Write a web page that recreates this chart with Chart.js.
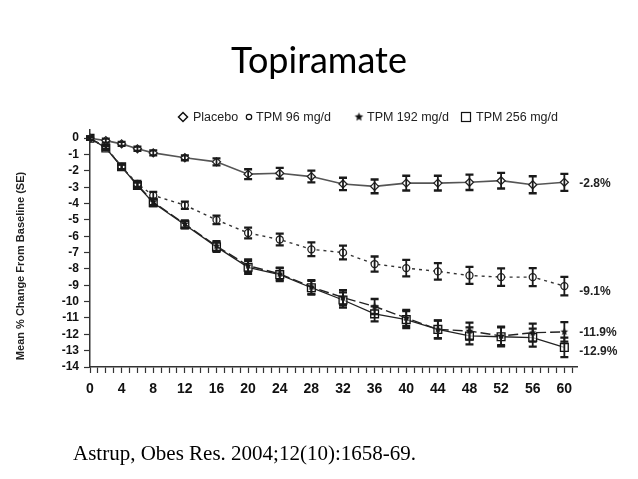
<!DOCTYPE html>
<html>
<head>
<meta charset="utf-8">
<script src="https://cdn.jsdelivr.net/npm/chart.js@4/dist/chart.umd.min.js"></script>
<style>
  html,body{margin:0;padding:0;background:#fff;}
  #c{display:block;}
</style>
</head>
<body>
<canvas id="c" width="638" height="479"></canvas>
<script>
// --- DATI ---
const weeks   = [0, 2, 4, 6, 8, 12, 16, 20, 24, 28, 32, 36, 40, 44, 48, 52, 56, 60];
const seriesNames = ["Placebo", "TPM 96 mg/d", "TPM 192 mg/d", "TPM 256 mg/d"];
const placebo = [0, -0.15, -0.35, -0.65, -0.9, -1.2, -1.45, -2.2, -2.15, -2.35, -2.8, -2.95, -2.75, -2.75, -2.7, -2.6, -2.85, -2.7];
const tpm96   = [0, -0.55, -1.75, -2.8, -3.5, -4.1, -5.0, -5.8, -6.2, -6.8, -7.0, -7.7, -7.95, -8.15, -8.4, -8.5, -8.5, -9.05];
const tpm192  = [0, -0.6, -1.75, -2.85, -3.9, -5.25, -6.6, -7.8, -8.3, -9.1, -9.75, -10.3, -11.0, -11.7, -11.8, -12.1, -11.9, -11.85];
const tpm256  = [0, -0.6, -1.75, -2.9, -3.95, -5.3, -6.65, -7.9, -8.35, -9.15, -9.9, -10.75, -11.1, -11.7, -12.1, -12.15, -12.2, -12.8];
// errore standard
const sePlacebo = [0.1, 0.12, 0.12, 0.13, 0.15, 0.15, 0.22, 0.3, 0.33, 0.36, 0.38, 0.42, 0.45, 0.45, 0.47, 0.48, 0.52, 0.52];
const se96      = [0.1, 0.12, 0.15, 0.18, 0.22, 0.22, 0.26, 0.33, 0.36, 0.42, 0.42, 0.46, 0.5, 0.5, 0.52, 0.54, 0.55, 0.57];
const se192     = [0.1, 0.12, 0.15, 0.18, 0.2, 0.22, 0.3, 0.38, 0.38, 0.42, 0.45, 0.46, 0.5, 0.54, 0.52, 0.57, 0.55, 0.6];
const se256     = [0.1, 0.12, 0.15, 0.18, 0.2, 0.22, 0.3, 0.4, 0.4, 0.42, 0.46, 0.46, 0.52, 0.55, 0.52, 0.58, 0.55, 0.6];
// etichette finali
const endLabels = ["-2.8%", "-9.1%", "-11.9%", "-12.9%"];
const endValues = [-2.8, -9.1, -11.9, -12.9];
// tick
const xTickLabels = [0, 4, 8, 12, 16, 20, 24, 28, 32, 36, 40, 44, 48, 52, 56, 60];
const yTicks = [0, -1, -2, -3, -4, -5, -6, -7, -8, -9, -10, -11, -12, -13, -14];

const chartTitle = "Topiramate";
const yTitle = "Mean % Change From Baseline (SE)";
const citation = "Astrup, Obes Res. 2004;12(10):1658-69.";

// --- STELLA PIENA (pointStyle) ---
function makeStar(r){
  const cv = document.createElement("canvas");
  const s = Math.ceil(r*2+2);
  cv.width = s; cv.height = s;
  const g = cv.getContext("2d");
  g.fillStyle = "#111";
  g.beginPath();
  for(let i=0;i<10;i++){
    const rad = i%2===0 ? r : r*0.45;
    const a = -Math.PI/2 + i*Math.PI/5;
    const px = s/2 + rad*Math.cos(a), py = s/2 + rad*Math.sin(a);
    if(i===0) g.moveTo(px,py); else g.lineTo(px,py);
  }
  g.closePath();
  g.fill();
  return cv;
}
const starPoint = makeStar(4);
const starLegend = makeStar(4.5);

const toXY = (vals) => vals.map((v,i)=>({x:weeks[i], y:v}));

const datasets = [
  {label:seriesNames[0], data:toXY(placebo), se:sePlacebo, borderColor:"#555", borderWidth:1.6,
   pointStyle:"rectRot", pointRadius:4, pointBorderWidth:1.3, pointBorderColor:"#222", pointBackgroundColor:"#fff"},
  {label:seriesNames[1], data:toXY(tpm96), se:se96, borderColor:"#333", borderWidth:1.4, borderDash:[3,4],
   pointStyle:"circle", pointRadius:3.5, pointBorderWidth:1.3, pointBorderColor:"#222", pointBackgroundColor:"#fff"},
  {label:seriesNames[2], data:toXY(tpm192), se:se192, borderColor:"#222", borderWidth:1.4, borderDash:[10,4],
   pointStyle:starPoint, pointRadius:4},
  {label:seriesNames[3], data:toXY(tpm256), se:se256, borderColor:"#222", borderWidth:1.3,
   pointStyle:"rect", pointRadius:5.5, pointBorderWidth:1.3, pointBorderColor:"#111", pointBackgroundColor:"rgba(255,255,255,0.6)"}
];

// --- PLUGIN: barre di errore, legenda, testi ---
const extras = {
  id:"extras",
  afterDatasetsDraw(chart){
    const ctx = chart.ctx, xs = chart.scales.x, ys = chart.scales.y;
    ctx.save();
    ctx.strokeStyle = "#1a1a1a";
    chart.data.datasets.forEach(ds=>{
      ds.data.forEach((p,i)=>{
        const x = xs.getPixelForValue(p.x);
        const top = ys.getPixelForValue(p.y + ds.se[i]);
        const bot = ys.getPixelForValue(p.y - ds.se[i]);
        ctx.lineWidth = 1.8;
        ctx.beginPath();
        ctx.moveTo(x, top); ctx.lineTo(x, bot);
        ctx.stroke();
        ctx.lineWidth = 2.3;
        ctx.beginPath();
        ctx.moveTo(x-4, top); ctx.lineTo(x+4, top);
        ctx.moveTo(x-4, bot); ctx.lineTo(x+4, bot);
        ctx.stroke();
      });
    });
    ctx.restore();
  },
  afterDraw(chart){
    const ctx = chart.ctx, ys = chart.scales.y, xs = chart.scales.x;
    ctx.save();
    // titolo
    ctx.fillStyle = "#000";
    ctx.font = "36px Lato, 'Open Sans', sans-serif";
    ctx.textAlign = "center";
    ctx.textBaseline = "alphabetic";
    ctx.fillText(chartTitle, 319, 73);

    // legenda
    const ly = 117;
    const symX = [183, 249, 359, 466];
    const txtX = [193, 256, 367, 476];
    ctx.strokeStyle = "#111"; ctx.lineWidth = 1.5;
    // diamante
    ctx.beginPath();
    ctx.moveTo(symX[0], ly-4.5); ctx.lineTo(symX[0]+4.5, ly); ctx.lineTo(symX[0], ly+4.5); ctx.lineTo(symX[0]-4.5, ly); ctx.closePath();
    ctx.stroke();
    // cerchio
    ctx.lineWidth = 1.2;
    ctx.beginPath(); ctx.arc(symX[1], ly, 2.7, 0, Math.PI*2); ctx.stroke();
    // stella
    ctx.drawImage(starLegend, symX[2]-starLegend.width/2, ly-starLegend.height/2);
    // quadrato
    ctx.lineWidth = 1.2;
    ctx.strokeRect(symX[3]-4.5, ly-4.5, 9, 9);
    ctx.fillStyle = "#222";
    ctx.textAlign = "left";
    ctx.font = "12.5px 'Liberation Sans', Arial, sans-serif";
    ctx.textBaseline = "middle";
    chart.data.datasets.forEach((ds,i)=> ctx.fillText(ds.label, txtX[i], ly+0.5));

    // titolo asse y
    ctx.save();
    ctx.translate(21, 266);
    ctx.rotate(-Math.PI/2);
    ctx.textAlign = "center";
    ctx.font = "bold 11px 'Liberation Sans', Arial, sans-serif";
    ctx.fillStyle = "#222";
    ctx.fillText(yTitle, 0, 0);
    ctx.restore();

    // etichette finali
    const offs = [0, 5, 0, 3];
    ctx.font = "bold 12px 'Liberation Sans', Arial, sans-serif";
    ctx.fillStyle = "#222";
    ctx.textAlign = "left";
    endLabels.forEach((t,i)=>{
      ctx.fillText(t, xs.getPixelForValue(60) + 15, ys.getPixelForValue(endValues[i]) + offs[i]);
    });

    // citazione
    ctx.font = "21px 'Liberation Serif', 'Times New Roman', serif";
    ctx.fillStyle = "#000";
    ctx.textBaseline = "alphabetic";
    ctx.fillText(citation, 73, 460);
    ctx.restore();
  }
};

const xTicksAll = [];
for(let w=0; w<=61; w++) xTicksAll.push(w);

new Chart(document.getElementById("c"), {
  type:"line",
  data:{datasets},
  options:{
    responsive:false,
    animation:false,
    events:[],
    layout:{padding:{left:0, right:61, top:130, bottom:0}},
    plugins:{
      legend:{display:false},
      tooltip:{enabled:false},
      title:{display:false}
    },
    scales:{
      x:{
        type:"linear", min:0, max:61.6,
        afterBuildTicks: s=>{ s.ticks = xTicksAll.map(v=>({value:v})); },
        afterFit: s=>{ s.height = 112; },
        grid:{display:true, drawOnChartArea:false, tickLength:6, color:"#333", tickWidth:1.2},
        border:{display:true, color:"#333", width:1.5},
        ticks:{autoSkip:false, maxRotation:0, padding:8, color:"#111",
          font:{family:"'Liberation Sans', Arial", size:14, weight:"bold"},
          callback: v => xTickLabels.includes(v) ? String(v) : ""}
      },
      y:{
        type:"linear", min:-14, max:0.5,
        afterBuildTicks: s=>{ s.ticks = yTicks.map(v=>({value:v})); },
        afterFit: s=>{ s.width = 90; },
        grid:{display:true, drawOnChartArea:false, tickLength:6, color:"#333", tickWidth:1.2},
        border:{display:true, color:"#333", width:1.5},
        ticks:{autoSkip:false, padding:5, color:"#111",
          font:{family:"'Liberation Sans', Arial", size:12, weight:"bold"},
          callback: v => String(v)}
      }
    }
  },
  plugins:[extras]
});
</script>
</body>
</html>
